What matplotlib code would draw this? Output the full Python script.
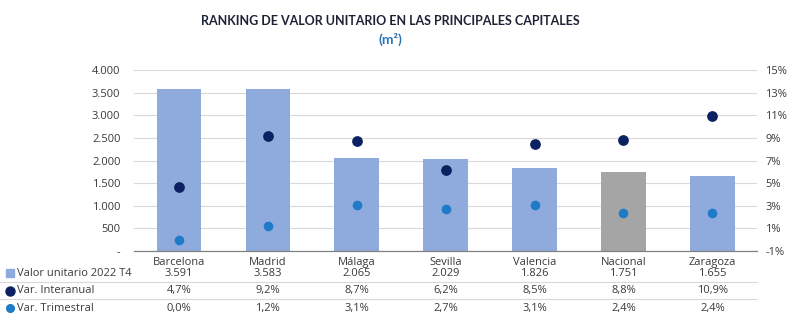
import matplotlib.pyplot as plt
from matplotlib.lines import Line2D
from matplotlib.patches import Rectangle

# Datos: valor unitario (€/m2) y variaciones por capital
ciudades = ["Barcelona", "Madrid", "Málaga", "Sevilla", "Valencia", "Nacional", "Zaragoza"]
valor_unitario = [3591, 3583, 2065, 2029, 1826, 1751, 1655]
var_interanual = [4.7, 9.2, 8.7, 6.2, 8.5, 8.8, 10.9]
var_trimestral = [0.0, 1.2, 3.1, 2.7, 3.1, 2.4, 2.4]

ticks_izq = [0, 500, 1000, 1500, 2000, 2500, 3000, 3500, 4000]
ticks_der = [-1, 1, 3, 5, 7, 9, 11, 13, 15]

C_BARRA = "#8FAADC"
C_NACIONAL = "#A5A5A5"
C_INTERANUAL = "#0B2161"
C_TRIMESTRAL = "#1F7BC8"
C_TEXTO = "#3A3A3A"

plt.rcParams["font.family"] = ["Open Sans", "DejaVu Sans"]

fig = plt.figure(figsize=(8, 3.22), dpi=100)
ax = fig.add_axes([0.168, 0.2205, 0.778, 0.562])
ax2 = ax.twinx()

x = list(range(len(ciudades)))
colores = [C_NACIONAL if c == "Nacional" else C_BARRA for c in ciudades]
ax.bar(x, valor_unitario, width=0.5, color=colores, zorder=2)
ax.set_ylim(0, 4000)
ax.set_xlim(-0.5, len(ciudades) - 0.5)
ax.set_yticks(ticks_izq)
ax.set_yticklabels(["-"] + [f"{v:,}".replace(",", ".") for v in ticks_izq[1:]])
ax.set_xticks([])
ax.grid(axis="y", color="#D9D9D9", linewidth=0.8, zorder=0)
ax.set_axisbelow(True)

ax2.scatter(x, var_interanual, s=45, color=C_INTERANUAL, zorder=3)
ax2.scatter(x, var_trimestral, s=35, color=C_TRIMESTRAL, zorder=3)
ax2.set_ylim(-1, 15)
ax2.set_yticks(ticks_der)
ax2.set_yticklabels([f"{v}%" for v in ticks_der])

for a in (ax, ax2):
    for lado in ("top", "left", "right"):
        a.spines[lado].set_visible(False)
    a.spines["bottom"].set_color("#808080")
    a.tick_params(length=0, labelsize=8, colors=C_TEXTO)
ax.tick_params(axis="y", pad=10)
ax2.tick_params(axis="y", pad=6)

# Tabla de datos bajo el gráfico
tr = ax.get_xaxis_transform()
filas_y = [-0.122, -0.221, -0.315]
for i, c in enumerate(ciudades):
    ax.text(i, -0.062, c, transform=tr, ha="center", va="center", fontsize=8, color=C_TEXTO)
    ax.text(i, filas_y[0], f"{valor_unitario[i]:,}".replace(",", "."), transform=tr,
            ha="center", va="center", fontsize=8, color=C_TEXTO)
    ax.text(i, filas_y[1], f"{var_interanual[i]:.1f}%".replace(".", ","), transform=tr,
            ha="center", va="center", fontsize=8, color=C_TEXTO)
    ax.text(i, filas_y[2], f"{var_trimestral[i]:.1f}%".replace(".", ","), transform=tr,
            ha="center", va="center", fontsize=8, color=C_TEXTO)

fy = lambda yax: 0.2205 + yax * 0.562
etiquetas = ["Valor unitario 2022 T4", "Var. Interanual", "Var. Trimestral"]
for j, (lbl, yax) in enumerate(zip(etiquetas, filas_y)):
    fig.text(0.021, fy(yax), lbl, ha="left", va="center", fontsize=8, color=C_TEXTO)
fig.patches.append(Rectangle((0.007, fy(filas_y[0]) - 0.013), 0.01, 0.026,
                             transform=fig.transFigure, color=C_BARRA))
fig.lines.append(Line2D([0.013], [fy(filas_y[1])], marker="o", markersize=6.5,
                        color=C_INTERANUAL, transform=fig.transFigure))
fig.lines.append(Line2D([0.013], [fy(filas_y[2])], marker="o", markersize=5.5,
                        color=C_TRIMESTRAL, transform=fig.transFigure))
for yl in (-0.172, -0.268):
    fig.lines.append(Line2D([0.0, 0.946], [fy(yl), fy(yl)], color="#D9D9D9",
                            linewidth=0.8, transform=fig.transFigure))

fig.text(0.4875, 0.935, "RANKING DE VALOR UNITARIO EN LAS PRINCIPALES CAPITALES",
         ha="center", va="center", fontsize=9, fontweight="bold", color="#1F2235",
         family=["Lato", "DejaVu Sans"])
fig.text(0.4875, 0.878, "(m²)", ha="center", va="center", fontsize=10,
         fontweight="bold", color="#2E75B6", family=["Lato", "DejaVu Sans"])

fig.savefig("out.png", dpi=100)
